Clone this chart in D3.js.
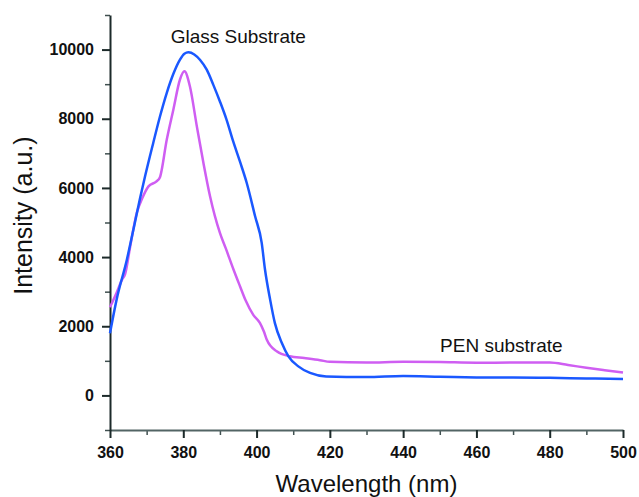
<!DOCTYPE html>
<html>
<head>
<meta charset="utf-8">
<script src="https://cdn.jsdelivr.net/npm/d3@7"></script>
<style>
  body { margin: 0; background: #fff; }
  svg { display: block; font-family: "Liberation Sans", Arial, sans-serif; }
  .tick text { font-weight: bold; font-size: 16px; fill: #111; }
</style>
</head>
<body>
<svg id="chart" width="639" height="497"></svg>
<script>
// PL spectra on glass vs PEN substrate

// wavelength (nm) / intensity (a.u.)
const glassWl = [360, 361.8, 364.6, 366.8, 368.2, 369.6, 371.8, 373.6, 375.5, 377.3, 379.1, 380.3, 381.4, 383, 384.6, 386.4, 388.2, 390, 391.8, 393.6, 395.5, 397.3, 399.6, 401.4, 402.3, 403.7, 405, 406.9, 408.7, 411.4, 414.6, 419, 430, 440, 450, 460, 470, 480, 490, 500];
const glassInt = [1800, 2770, 3925, 5000, 5700, 6350, 7300, 8050, 8750, 9300, 9710, 9880, 9920, 9860, 9700, 9420, 8980, 8500, 7975, 7350, 6750, 6150, 5180, 4410, 3640, 2770, 2090, 1515, 1130, 840, 650, 550, 530, 560, 540, 520, 515, 510, 490, 475];

const penWl = [360, 361.8, 363.3, 364.1, 365.5, 367.3, 368.8, 370.5, 372.7, 373.6, 375.5, 377.3, 379.1, 380.3, 381.8, 383.7, 385.5, 387.3, 390, 391.6, 393.7, 395.5, 397, 399.1, 400.9, 402, 402.8, 405.5, 409.1, 413, 417.3, 420, 430, 440, 450, 460, 470, 480, 485, 490, 495, 500];
const penInt = [2550, 2970, 3350, 3500, 4300, 5275, 5700, 6045, 6190, 6300, 7400, 8270, 9135, 9370, 8940, 7780, 6720, 5760, 4700, 4250, 3640, 3150, 2750, 2330, 2100, 1850, 1610, 1275, 1130, 1080, 1020, 970, 950, 975, 965, 945, 950, 950, 880, 800, 730, 665];

const xMajor = [360, 380, 400, 420, 440, 460, 480, 500];
const xMinor = [370, 390, 410, 430, 450, 470, 490];
const yMajor = [0, 2000, 4000, 6000, 8000, 10000];
const yMinor = [-1000, 1000, 3000, 5000, 7000, 9000, 11000];

const margin = { top: 15, right: 16, bottom: 67, left: 110 };
const svg = d3.select("#chart");
const width = +svg.attr("width") - margin.left - margin.right;
const height = +svg.attr("height") - margin.top - margin.bottom;

const x = d3.scaleLinear().domain([360, 500]).range([0, width]);
const y = d3.scaleLinear().domain([-1000, 11000]).range([height, 0]);

const g = svg.append("g")
  .attr("transform", "translate(" + margin.left + "," + margin.top + ")");

// minor ticks first, no labels
g.append("g")
  .attr("transform", `translate(0,${height})`)
  .call(d3.axisBottom(x).tickValues(xMinor).tickSize(5).tickFormat(""))
  .call(a => a.select(".domain").remove())
  .selectAll("line").attr("stroke", "#405050").attr("stroke-width", 1.5);
g.append("g")
  .call(d3.axisLeft(y).tickValues(yMinor).tickSize(5).tickFormat(""))
  .call(a => a.select(".domain").remove())
  .selectAll("line").attr("stroke", "#405050").attr("stroke-width", 1.5);

let xAxis = g.append("g")
  .attr("transform", `translate(0,${height})`)
  .call(d3.axisBottom(x).tickValues(xMajor).tickSize(8).tickPadding(9).tickSizeOuter(0).tickFormat(d3.format("d")));
xAxis.select(".domain").attr("stroke", "#526464").attr("stroke-width", 2);
xAxis.selectAll(".tick line").attr("stroke", "#1c2a2a").attr("stroke-width", 2);

let yAxis = g.append("g")
  .call(d3.axisLeft(y).tickValues(yMajor).tickSize(8).tickPadding(8).tickSizeOuter(0).tickFormat(d3.format("d")));
yAxis.select(".domain").attr("stroke", "#1c2a2a").attr("stroke-width", 2);
yAxis.selectAll(".tick line").attr("stroke", "#1c2a2a").attr("stroke-width", 2);

const line = d3.line()
  .x(d => x(d[0]))
  .y(d => y(d[1]))
  .curve(d3.curveMonotoneX);

g.append("path")
  .datum(d3.zip(penWl, penInt))
  .attr("fill", "none")
  .attr("stroke", "#cf5ef2")
  .attr("stroke-width", 2.5)
  .attr("d", line);

g.append("path")
  .datum(d3.zip(glassWl, glassInt))
  .attr("fill", "none")
  .attr("stroke", "#1a58ff")
  .attr("stroke-width", 2.5)
  .attr("d", line);

// curve labels
g.append("text")
  .attr("x", x(395))
  .attr("y", y(10180))
  .attr("text-anchor", "middle")
  .attr("font-size", 19)
  .attr("fill", "#111")
  .text("Glass Substrate");

g.append("text")
  .attr("x", x(466.8))
  .attr("y", y(1260))
  .attr("text-anchor", "middle")
  .attr("font-size", 19)
  .attr("fill", "#111")
  .text("PEN substrate");

// axis titles
svg.append("text")
  .attr("x", margin.left + width / 2)
  .attr("y", 492)
  .attr("text-anchor", "middle")
  .attr("font-size", 24)
  .attr("fill", "#111")
  .text("Wavelength (nm)");

svg.append("text")
  .attr("transform", `translate(32,${margin.top + y(5200)}) rotate(-90)`)
  .attr("text-anchor", "middle")
  .attr("font-size", 25)
  .attr("fill", "#111")
  .text("Intensity (a.u.)");
</script>
</body>
</html>
